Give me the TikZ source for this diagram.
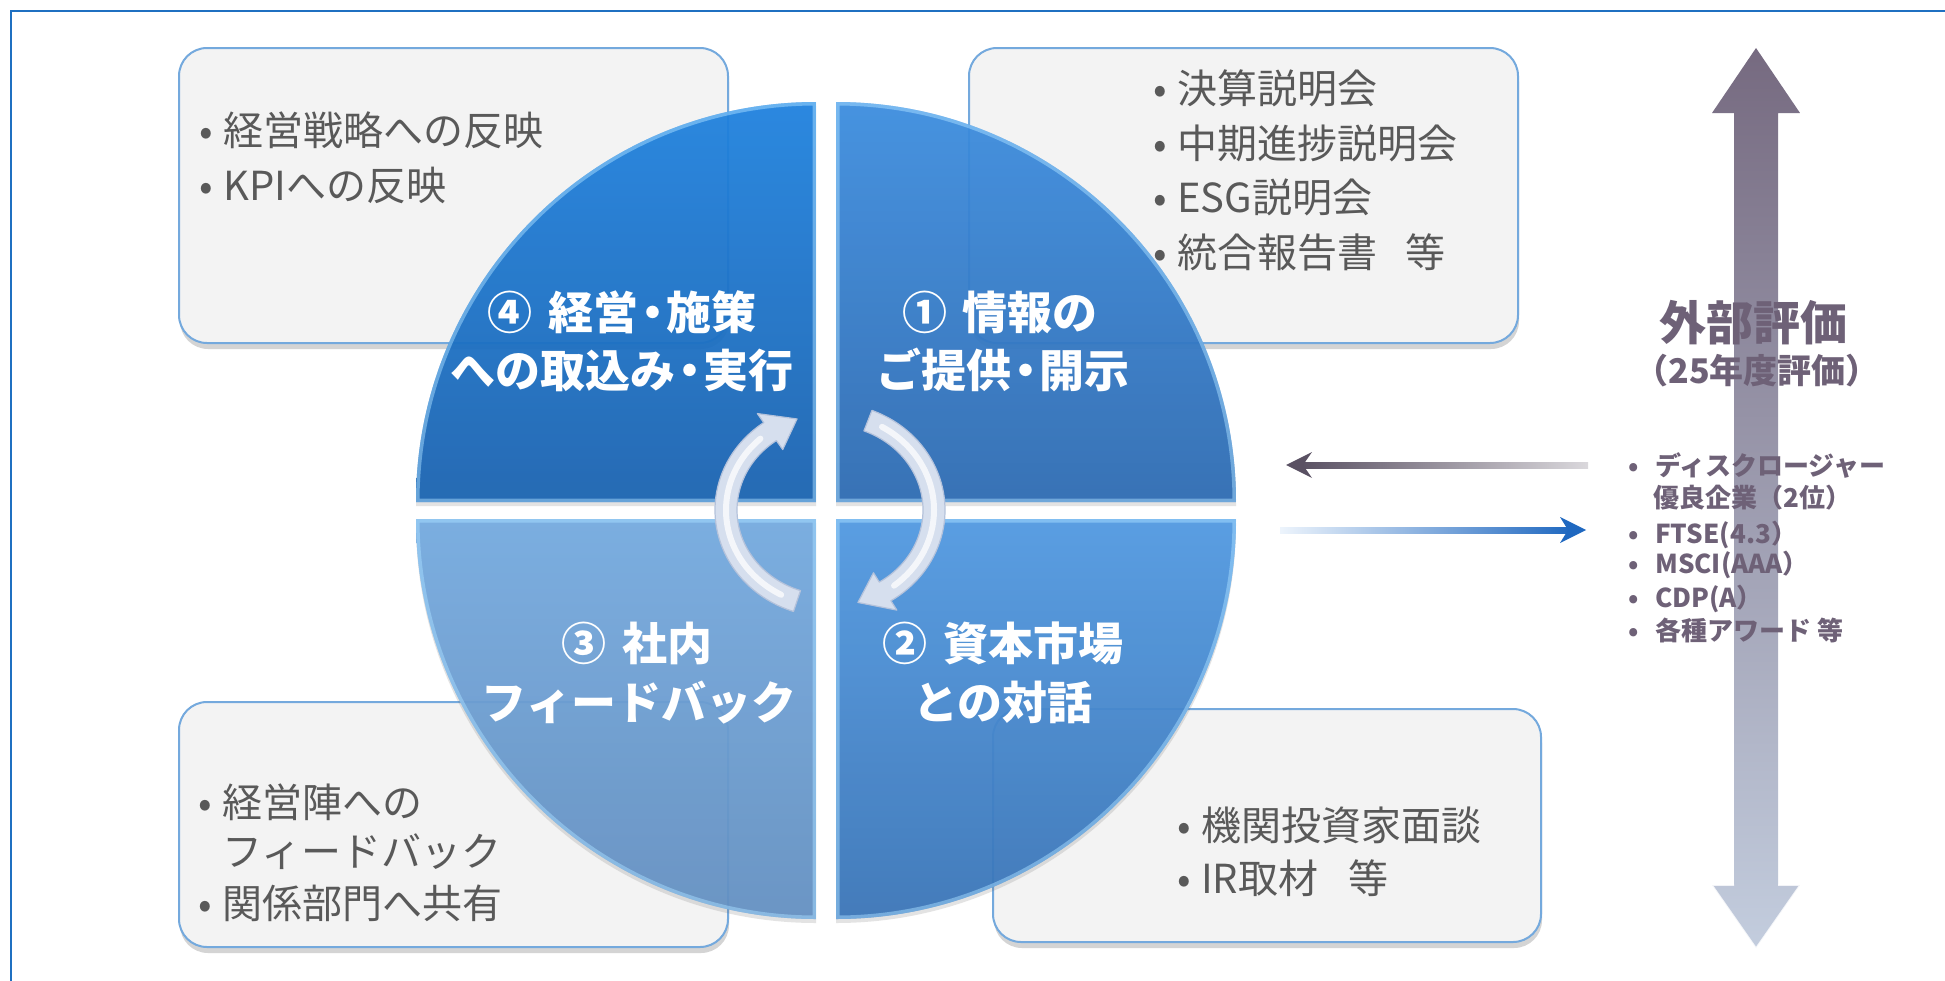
\documentclass[tikz,border=0pt]{standalone}
\usepackage{fontspec}
\setmainfont{Noto Sans CJK JP}
\usetikzlibrary{shadows,calc}
\definecolor{framec}{HTML}{1F70C1}
\definecolor{boxfill}{HTML}{F3F3F3}
\definecolor{boxline}{HTML}{74A9DD}
\definecolor{boxtext}{HTML}{595959}
\definecolor{qAt}{HTML}{3B8DE0}\definecolor{qAb}{HTML}{2C6AB2}
\definecolor{qBt}{HTML}{5099E2}\definecolor{qBb}{HTML}{3874B8}
\definecolor{qCt}{HTML}{74AAE0}\definecolor{qCb}{HTML}{6390C2}
\definecolor{qDt}{HTML}{1E82E0}\definecolor{qDb}{HTML}{1862B0}
\definecolor{hl}{HTML}{A6DCFF}
\definecolor{mauve}{HTML}{6E6177}
\definecolor{bigtop}{HTML}{766A80}
\definecolor{bigmid}{HTML}{938DA1}
\definecolor{bigbot}{HTML}{C3CDDE}
\definecolor{arcfill}{HTML}{D6DFEE}
\definecolor{arcedge}{HTML}{B4C2DB}
\definecolor{lAdark}{HTML}{5A5163}
\definecolor{lAlight}{HTML}{DAD8DC}
\definecolor{rAlight}{HTML}{EDF4FC}
\definecolor{rAdark}{HTML}{1F68C0}
\newcommand\mybul{\makebox[34pt][c]{•}}
\newcommand\rbul{\makebox[44pt][c]{•}}
\newcommand\nd{\makebox[0.62em][c]{・}}
\begin{document}
\begin{tikzpicture}[x=1pt,y=-1pt,
  infobox/.style={fill=boxfill, draw=boxline, line width=2pt, rounded corners=28pt,
    drop shadow={shadow xshift=1pt, shadow yshift=-6pt, opacity=0.28, fill=black!60}},
  boxtxt/.style={anchor=base west, inner sep=0pt, text=boxtext, font=\fontsize{40}{48}\selectfont},
  qlab/.style={anchor=base, inner sep=0pt, text=white, font=\fontsize{45}{52}\selectfont\bfseries},
  rtxt/.style={anchor=base west, inner sep=0pt, text=mauve, font=\fontsize{26}{30}\selectfont\bfseries},
  cyc/.style={fill=arcfill, draw=arcedge, line width=1.2pt, line join=round}]
\useasboundingbox (0,0) rectangle (1945,980);
\fill[white] (0,0) rectangle (1945,980);
\draw[framec, line width=2.5pt] (11,11) rectangle (1965,1000);

% info boxes
\path[infobox] (179,48) rectangle (728,343);
\path[infobox] (969,48) rectangle (1518,343);
\path[infobox] (179,702) rectangle (728,947);
\path[infobox] (993,709) rectangle (1541,942);

% quadrants
\foreach \cx/\cy/\s/\tc/\bc in {816/502/180/qDt/qDb, 836/502/270/qAt/qAb, 836/519/0/qBt/qBb, 816/519/90/qCt/qCb}{
  \shade[top color=\tc, bottom color=\bc, fill opacity=0.93,
    drop shadow={shadow xshift=0pt, shadow yshift=-4pt, opacity=0.18, fill=black!60}]
    (\cx,\cy) -- ++(\s:400) arc[start angle=\s, delta angle=90, radius=400] -- cycle;
  \begin{scope}
    \clip (\cx,\cy) -- ++(\s:400) arc[start angle=\s, delta angle=90, radius=400] -- cycle;
    \draw[hl, line width=7pt, opacity=0.5, line join=miter]
      (\cx,\cy) -- ++(\s:400) arc[start angle=\s, delta angle=90, radius=400] -- cycle;
  \end{scope}
}

% box texts
\node[boxtxt] (t1) at (189,145) {\mybul 経営戦略への反映};
\node[boxtxt] (t2) at (189,200) {\mybul KPIへの反映};
\node[boxtxt] (t3) at (1143,103) {\mybul 決算説明会};
\node[boxtxt] (t4) at (1143,158) {\mybul 中期進捗説明会};
\node[boxtxt] (t5) at (1143,212) {\mybul ESG説明会};
\node[boxtxt] (t6) at (1143,267) {\mybul 統合報告書\hspace{28pt}等};
\node[boxtxt] (t7) at (188,817) {\mybul 経営陣への};
\node[boxtxt] (t8) at (222,866) {フィードバック};
\node[boxtxt] (t9) at (188,918) {\mybul 関係部門へ共有};
\node[boxtxt] (t10) at (1167,840) {\mybul 機関投資家面談};
\node[boxtxt] (t11) at (1167,893) {\mybul IR取材\hspace{30pt}等};

% quadrant labels
\node[qlab] (l4a) at (622,329) {④\hspace{16pt}経営\nd 施策};
\node[qlab] (l4b) at (622,387) {への取込み\nd 実行};
\node[qlab] (l1a) at (1000,329) {①\hspace{16pt}情報の};
\node[qlab] (l1b) at (1003,387) {ご提供\nd 開示};
\node[qlab] (l3a) at (637,660) {③\hspace{16pt}社内};
\node[qlab] (l3b) at (639,719) {フィードバック};
\node[qlab] (l2a) at (1003,660) {②\hspace{16pt}資本市場};
\node[qlab] (l2b) at (1003,719) {との対話};

% cycle arrows
\coordinate (C) at (830,510);
\fill[cyc] ([shift={(C)}]108.5:115 and 107) arc[start angle=108.5, end angle=234.8, x radius=115, y radius=107]
  -- ([shift={(C)}]234.8:126 and 118) -- ([shift={(C)}]251.5:104 and 96)
  -- ([shift={(C)}]234.8:82 and 74) -- ([shift={(C)}]234.8:93 and 85)
  arc[start angle=234.8, end angle=108.5, x radius=93, y radius=85] -- cycle;
\draw[white, line width=6pt, opacity=0.75, line cap=round] ([shift={(C)}]118:104 and 96) arc[start angle=118, end angle=228, x radius=104, y radius=96];
\fill[cyc] ([shift={(C)}]-68.6:115 and 107) arc[start angle=-68.6, end angle=58, x radius=115, y radius=107]
  -- ([shift={(C)}]58:126 and 118) -- ([shift={(C)}]74.4:104 and 96)
  -- ([shift={(C)}]58:82 and 74) -- ([shift={(C)}]58:93 and 85)
  arc[start angle=58, end angle=-68.6, x radius=93, y radius=85] -- cycle;
\draw[white, line width=6pt, opacity=0.75, line cap=round] ([shift={(C)}]-60:104 and 96) arc[start angle=-60, end angle=52, x radius=104, y radius=96];

% big double arrow
\shade[top color=bigtop, middle color=bigmid, bottom color=bigbot]
  (1756,48) -- (1800,113) -- (1778,113) -- (1778,885) -- (1800,885) -- (1756,948)
  -- (1712,885) -- (1734,885) -- (1734,113) -- (1712,113) -- cycle;
\draw[white, line width=1.5pt, opacity=0.8, line join=round] (1778,885) -- (1800,885) -- (1756,948) -- (1712,885) -- (1734,885);

% horizontal arrows
\coordinate (la0) at (1588,465);
\coordinate (la1) at (1286,465);
\shade[left color=lAdark, right color=lAlight] (1300,462) rectangle (la0 |- 0,468);
\fill[lAdark] (la1) -- (1312,452) -- (1303,465) -- (1312,478) -- cycle;
\coordinate (ra0) at (1280,530);
\coordinate (ra1) at (1586,530);
\shade[left color=rAlight, right color=rAdark] (ra0 |- 0,527) rectangle (1572,533);
\fill[rAdark] (ra1) -- (1560,517) -- (1568,530) -- (1560,543) -- cycle;

% external evaluation texts
\node[anchor=base, inner sep=0pt, text=mauve, font=\fontsize{47}{50}\selectfont\bfseries] (ev) at (1753,340) {外部評価};
\node[anchor=base, inner sep=0pt, text=mauve, font=\fontsize{34}{38}\selectfont\bfseries] (ev2) at (1757,383) {（25年度評価）};
\node[rtxt] (r1) at (1611,475) {\rbul ディスクロージャー};
\node[rtxt] (r2) at (1653,507) {優良企業（2位）};
\node[rtxt] (r3) at (1611,543) {\rbul FTSE(4.3）};
\node[rtxt] (r4) at (1611,573) {\rbul MSCI(AAA）};
\node[rtxt] (r5) at (1611,607) {\rbul CDP(A）};
\node[rtxt] (r6) at (1611,640) {\rbul 各種アワード 等};
\end{tikzpicture}
\end{document}
